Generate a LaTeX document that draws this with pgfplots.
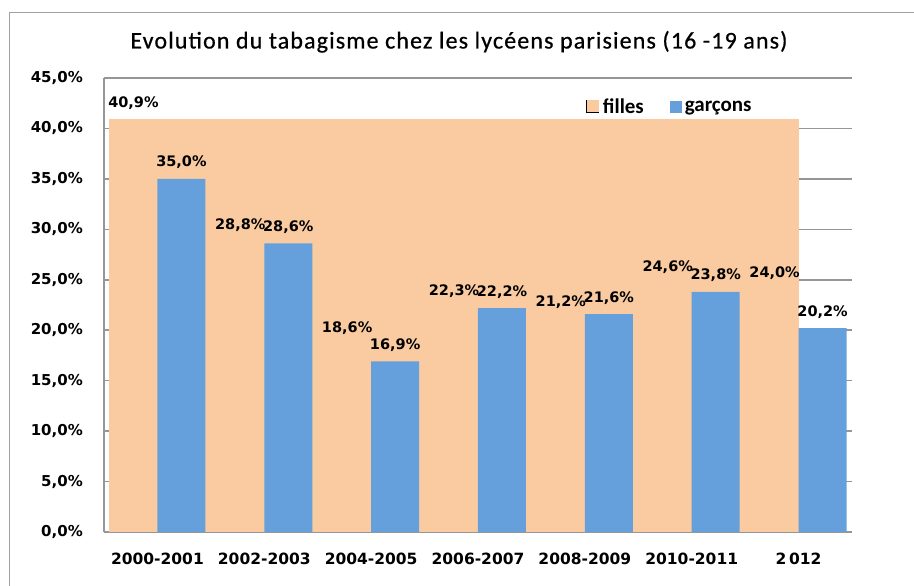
\documentclass[border=0pt]{standalone}
\usepackage{pgfplots}
\pgfplotsset{compat=1.18}
\usepackage{fontspec}
\setmainfont{Carlito}
\newfontfamily\djfont{DejaVu Sans}
\newfontfamily\titlefont{Carlito}[LetterSpace=4.7, FakeBold=0.6]
\definecolor{fille}{RGB}{250,203,161}
\definecolor{garcon}{RGB}{102,160,220}
\definecolor{gridc}{RGB}{150,150,150}
\definecolor{framec}{RGB}{160,160,160}
\begin{document}
\begin{tikzpicture}
\useasboundingbox (0pt,0pt) rectangle (914pt,586pt);
\draw[framec, line width=1pt] (9pt,573pt) rectangle (930pt,-10pt);
\begin{axis}[
  at={(104pt,54pt)}, anchor=south west,
  scale only axis, width=748pt, height=454pt,
  xmin=-0.5, xmax=6.5, ymin=0, ymax=45,
  axis lines*=left,
  axis line style={gridc, line width=1.5pt},
  ymajorgrids, grid style={gridc, line width=1.5pt},
  ytick={0,5,...,45},
  xtick={0,1,2,3,4,5,6},
  xticklabels={2000-2001,2002-2003,2004-2005,2006-2007,2008-2009,2010-2011,2\,012},
  major tick length=0pt,
  tick style={draw=none},
  /pgf/number format/.cd, fixed, fixed zerofill, precision=1, use comma, assume math mode=true,
  /pgfplots/.cd,
  yticklabel={\pgfmathprintnumber{\tick}\%},
  yticklabel style={anchor=east, inner sep=0pt, xshift=-21pt, font=\djfont\bfseries\fontsize{15}{18}\selectfont},
  xticklabel style={anchor=base, inner sep=0pt, yshift=-33pt, font=\djfont\bfseries\fontsize{15.5}{18}\selectfont},
  legend style={draw=none, fill=none, inner sep=0pt, outer sep=0pt, anchor=west,
    at={(0.645,0.936)}, font=\bfseries\fontsize{21}{24}\selectfont,
    nodes={inner sep=3pt},
    /tikz/every even column/.append style={column sep=23pt}},
  legend columns=2,
]
\addplot[fill=fille, draw=none, forget plot] coordinates {(-0.449,40.9) (6.0,40.9)} \closedcycle;
\addplot[ybar, bar width=48pt, bar shift=-24pt, fill=fille, draw=none,
  nodes near coords={\pgfmathprintnumber{\pgfplotspointmeta}\%},
  every node near coord/.append style={font=\djfont\bfseries\fontsize{14.5}{17}\selectfont, text=black, anchor=base, inner sep=0pt, yshift=12pt, xshift=-24pt},
  legend image code/.code={\fill[fille, draw=none] (0pt,-6pt) rectangle (13pt,7pt); \draw[draw=black, fill=none, line width=1pt] (0.5pt,7pt) -- (0.5pt,-5.5pt) -- (13pt,-5.5pt);}]
  coordinates {(0,40.9) (1,28.8) (2,18.6) (3,22.3) (4,21.2) (5,24.6) (6,24.0)};
\addlegendentry{filles}
\addplot[ybar, bar width=48pt, bar shift=24pt, fill=garcon, draw=none,
  nodes near coords={\pgfmathprintnumber{\pgfplotspointmeta}\%},
  every node near coord/.append style={font=\djfont\bfseries\fontsize{14.5}{17}\selectfont, text=black, anchor=base, inner sep=0pt, yshift=12pt, xshift=24pt},
  legend image code/.code={\fill[garcon, draw=none] (0pt,-6pt) rectangle (12pt,6pt);}]
  coordinates {(0,35.0) (1,28.6) (2,16.9) (3,22.2) (4,21.6) (5,23.8) (6,20.2)};
\addlegendentry{garçons}
\end{axis}
\node[anchor=base, inner sep=0pt, font=\titlefont\fontsize{24}{28}\selectfont] at (459pt,537.5pt) {Evolution du tabagisme chez les lycéens parisiens (16 -19 ans)};
\end{tikzpicture}
\end{document}
